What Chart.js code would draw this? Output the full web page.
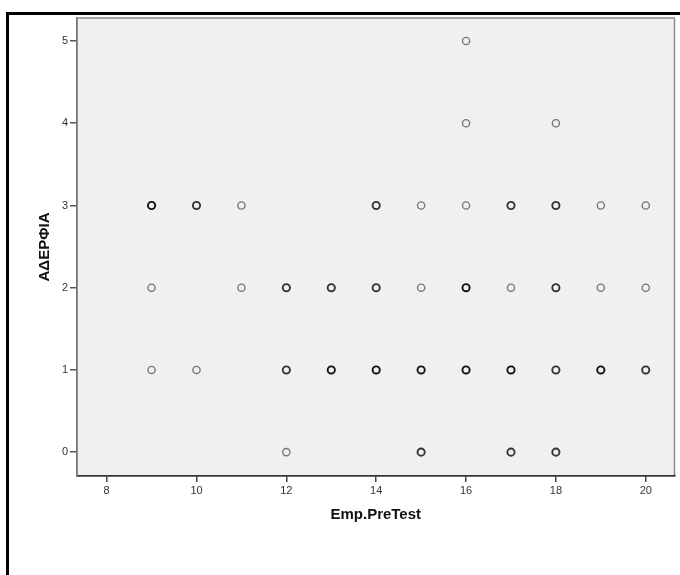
<!DOCTYPE html>
<html>
<head>
<meta charset="utf-8">
<script src="https://cdn.jsdelivr.net/npm/chart.js@4"></script>
<style>
  html, body { margin: 0; padding: 0; background: #fff; }
  #wrap { width: 680px; height: 575px; }
</style>
</head>
<body>
<div id="wrap"><canvas id="scatter" width="680" height="575"></canvas></div>
<script>
// Emp.PreTest vs ΑΔΕΡΦΙΑ, one entry per distinct point; cases = overlapping cases (darker circle)
const preTest = [16, 16, 18,
  9, 10, 11, 14, 15, 16, 17, 18, 19, 20,
  9, 11, 12, 13, 14, 15, 16, 17, 18, 19, 20,
  9, 10, 12, 13, 14, 15, 16, 17, 18, 19, 20,
  12, 15, 17, 18];
const siblings = [5, 4, 4,
  3, 3, 3, 3, 3, 3, 3, 3, 3, 3,
  2, 2, 2, 2, 2, 2, 2, 2, 2, 2, 2,
  1, 1, 1, 1, 1, 1, 1, 1, 1, 1, 1,
  0, 0, 0, 0];
const cases = [1, 1, 1,
  3, 2, 1, 2, 1, 1, 2, 2, 1, 1,
  1, 1, 2, 2, 2, 1, 3, 1, 2, 1, 1,
  1, 1, 2, 3, 4, 3, 3, 4, 2, 3, 2,
  1, 2, 2, 2];
const xTicks = [8, 10, 12, 14, 16, 18, 20];
const yTicks = [0, 1, 2, 3, 4, 5];

const points = preTest.map((x, i) => ({ x: x, y: siblings[i] }));

function caseColor(n) {
  if (n >= 3) return '#111';
  if (n == 2) return '#333';
  return '#777';
}

const frame = {
  id: 'frame',
  beforeDraw(chart) {
    const c = chart.ctx, a = chart.chartArea;
    c.save();
    c.fillStyle = '#fff';
    c.fillRect(0, 0, chart.width, chart.height);
    // outer black frame (runs off the right and bottom)
    c.strokeStyle = '#000';
    c.lineWidth = 3;
    c.beginPath();
    c.moveTo(7.5, chart.height + 5);
    c.lineTo(7.5, 13.5);
    c.lineTo(chart.width + 5, 13.5);
    c.stroke();
    // plot background
    c.fillStyle = '#f0f0f0';
    c.fillRect(a.left, a.top, a.right - a.left, a.bottom - a.top);
    c.strokeStyle = '#8a8a8a';
    c.lineWidth = 1.5;
    c.strokeRect(a.left, a.top, a.right - a.left, a.bottom - a.top);
    c.restore();
  }
};

const ctx = document.getElementById('scatter').getContext('2d');
const chart = new Chart(ctx, {
  type: 'scatter',
  data: {
    datasets: [{
      label: 'ΑΔΕΡΦΙΑ',
      data: points,
      pointRadius: 3.6,
      pointHoverRadius: 3.6,
      backgroundColor: 'rgba(0,0,0,0)',
      borderColor: c => caseColor(cases[c.dataIndex]),
      borderWidth: c => (cases[c.dataIndex] >= 2 ? 1.9 : 1.4)
    }]
  },
  options: {
    responsive: false,
    animation: false,
    layout: { padding: { left: 36, top: 18, right: 1, bottom: 51 } },
    plugins: {
      legend: { display: false },
      tooltip: { enabled: false }
    },
    scales: {
      x: {
        type: 'linear',
        min: 7.34,
        max: 20.64,
        afterBuildTicks: s => { s.ticks = xTicks.map(v => ({ value: v })); },
        afterFit: s => { s.height = 48; },
        border: { display: true, color: '#333', width: 1.5 },
        grid: { drawOnChartArea: false, drawTicks: true, tickLength: 6, color: '#444', lineWidth: 1.5 },
        ticks: {
          padding: 2,
          maxRotation: 0,
          color: '#333',
          font: { family: 'Liberation Sans, Arial, sans-serif', size: 11 }
        },
        title: {
          display: true,
          text: 'Emp.PreTest',
          color: '#111',
          padding: { top: 4, bottom: 0 },
          font: { family: 'Liberation Sans, Arial, sans-serif', size: 15, weight: 'bold' }
        }
      },
      y: {
        type: 'linear',
        min: -0.29,
        max: 5.28,
        afterBuildTicks: s => { s.ticks = yTicks.map(v => ({ value: v })); },
        afterFit: s => { s.width = 41; },
        border: { display: true, color: '#777', width: 1.5 },
        grid: { drawOnChartArea: false, drawTicks: true, tickLength: 7, color: '#555', lineWidth: 1.5 },
        ticks: {
          padding: 2,
          color: '#333',
          font: { family: 'Liberation Sans, Arial, sans-serif', size: 11 }
        },
        title: {
          display: true,
          text: 'ΑΔΕΡΦΙΑ',
          color: '#111',
          padding: { top: 0, bottom: 0 },
          font: { family: 'Liberation Sans, Arial, sans-serif', size: 15, weight: 'bold' }
        }
      }
    }
  },
  plugins: [frame]
});
</script>
</body>
</html>
